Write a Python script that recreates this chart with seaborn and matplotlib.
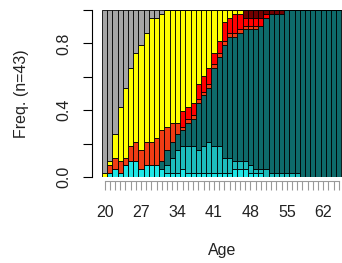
import matplotlib
matplotlib.use("Agg")
import matplotlib.pyplot as plt
import seaborn as sns
import pandas as pd

# ---- data: counts per age (n = 43 sequences) ----
ages = list(range(20, 66))

cyan_lt = [0, 1, 2, 1, 3, 4, 4, 2, 3, 3, 3, 2, 1, 1, 1, 2, 1, 1, 1, 1, 1, 1, 1, 1, 1, 2, 2, 2, 1, 1,
           1, 0, 0, 0, 0, 0, 0, 0, 0, 0, 0, 0, 0, 0, 0, 0]
cyan_md = [0, 0, 0, 0, 0, 0, 0, 0, 0, 0, 0, 0, 2, 4, 6, 6, 7, 7, 6, 7, 8, 7, 7, 4, 4, 2, 2, 2, 2, 1,
           1, 2, 1, 1, 1, 1, 1, 1, 0, 0, 0, 0, 0, 0, 0, 0]
teal    = [0, 0, 0, 0, 0, 0, 0, 0, 0, 0, 0, 2, 4, 4, 4, 4, 6, 7, 12, 13, 14, 20, 23, 29, 31, 32, 33, 34,
           35, 36, 37, 39, 41, 41, 41, 42, 42, 42, 43, 43, 43, 43, 43, 43, 43, 43]
orange  = [0, 2, 3, 3, 2, 4, 5, 5, 6, 6, 7, 8, 6, 5, 3, 1, 1, 1, 1, 1, 1, 1, 1, 1, 1, 1, 1, 1, 1, 1,
           0, 0, 0, 0, 0, 0, 0, 0, 0, 0, 0, 0, 0, 0, 0, 0]
red     = [0, 0, 0, 0, 0, 0, 0, 0, 0, 0, 0, 0, 0, 0, 0, 4, 3, 3, 4, 4, 4, 3, 3, 5, 4, 5, 4, 2, 2, 2,
           2, 1, 0, 0, 0, 0, 0, 0, 0, 0, 0, 0, 0, 0, 0, 0]
darkred = [0, 0, 0, 0, 0, 0, 0, 0, 0, 0, 0, 0, 0, 0, 0, 0, 0, 0, 0, 0, 0, 0, 0, 0, 0, 0, 0, 2, 2, 2,
           2, 1, 1, 1, 1, 0, 0, 0, 0, 0, 0, 0, 0, 0, 0, 0]
yellow  = [1, 1, 6, 14, 18, 20, 23, 27, 28, 32, 31, 30, 30, 29, 29, 26, 25, 24, 19, 17, 15, 11, 8, 3,
           2, 1, 1, 0, 0, 0, 0, 0, 0, 0, 0, 0, 0, 0, 0, 0, 0, 0, 0, 0, 0, 0]
gray    = [42, 39, 32, 25, 20, 15, 11, 9, 6, 2, 2, 1, 0, 0, 0, 0, 0, 0, 0, 0, 0, 0, 0, 0, 0, 0, 0, 0,
           0, 0, 0, 0, 0, 0, 0, 0, 0, 0, 0, 0, 0, 0, 0, 0, 0, 0]

# top of the stack first (seaborn puts the first hue level on top)
series = {"gray": gray, "yellow": yellow, "darkred": darkred, "red": red,
          "orange": orange, "teal": teal, "cyan_md": cyan_md, "cyan_lt": cyan_lt}
colors = {"gray": "#a5a5a5", "yellow": "#ffff00", "darkred": "#720000", "red": "#ff0000",
          "orange": "#f03c14", "teal": "#0e6b6b", "cyan_md": "#1dbdbd", "cyan_lt": "#20e6e6"}

df = pd.DataFrame([{"age": a, "state": s, "n": v[i]}
                   for s, v in series.items() for i, a in enumerate(ages)])

# ---- figure ----
sns.set_theme(style="white")
plt.rcParams["font.family"] = ["Liberation Sans", "DejaVu Sans"]

fig = plt.figure(figsize=(3.42, 2.63), dpi=100)
ax = fig.add_axes([102 / 342, 1 - 177 / 263, 239.5 / 342, 167 / 263])

sns.histplot(data=df, x="age", hue="state", weights="n", multiple="fill",
             discrete=True, shrink=1, hue_order=list(series), palette=colors,
             edgecolor="black", linewidth=0.6, alpha=1, legend=False, ax=ax)

ax.set_xlim(19.5, 65.5)
ax.set_ylim(0, 1)

for side in ("top", "right"):
    ax.spines[side].set_visible(False)
ax.spines["left"].set_position(("outward", 7.2))
ax.spines["left"].set_bounds(0, 1)
ax.spines["left"].set_color("black")
ax.spines["left"].set_linewidth(0.8)
ax.spines["bottom"].set_position(("outward", 3))
ax.spines["bottom"].set_bounds(ages[0], ages[-1])
ax.spines["bottom"].set_color("#999999")
ax.spines["bottom"].set_linewidth(0.8)

ax.set_xticks(ages)
ax.set_xticklabels([str(a) if (a - ages[0]) % 7 == 0 else "" for a in ages])
ax.set_yticks([0, 0.2, 0.4, 0.6, 0.8, 1.0])
ax.set_yticklabels(["0.0", "", "0.4", "", "0.8", ""], rotation=90, va="center")

ax.tick_params(axis="x", bottom=True, length=6.5, width=0.8, color="#999999",
               labelsize=11.5, labelcolor="#222222", pad=11)
ax.tick_params(axis="y", left=True, length=6.5, width=0.8, color="black",
               labelsize=11.5, labelcolor="#222222", pad=8)

ax.set_xlabel("Age", fontsize=11.5, color="#222222")
ax.set_ylabel("Freq. (n=43)", fontsize=11.5, color="#222222")
ax.xaxis.set_label_coords(0.5, -(250 - 177) / 167)
ax.xaxis.label.set_va("center")
ax.yaxis.set_label_coords(-(102 - 22) / 239.5, 0.5)
ax.yaxis.label.set_va("center")

fig.savefig("out.png", dpi=100)
